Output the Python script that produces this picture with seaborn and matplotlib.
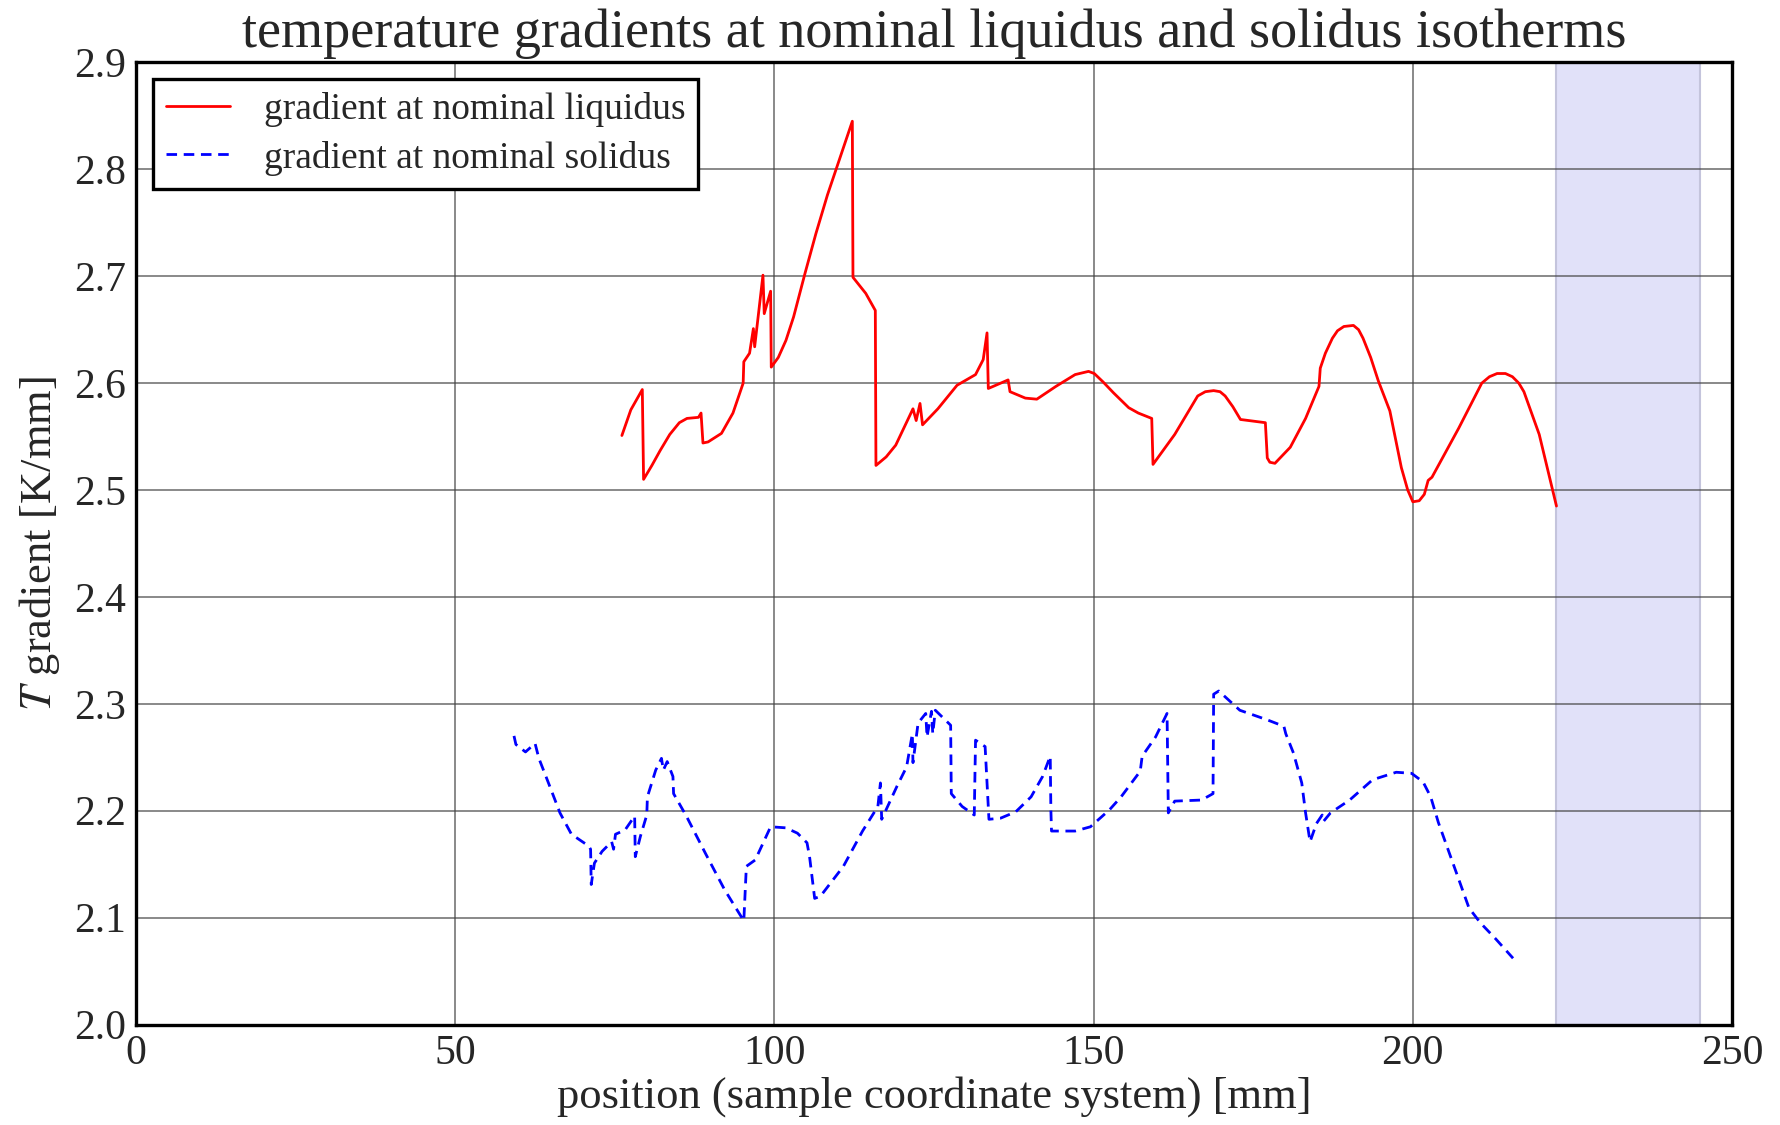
import numpy as np
import pandas as pd
import matplotlib
matplotlib.use("Agg")
import matplotlib.pyplot as plt
import seaborn as sns

# Temperature gradient along the sample at the nominal liquidus isotherm
liq_pos = [76.1, 77.5, 79.3, 79.5, 80.8, 82.1, 83.6, 85.1, 86.3, 88.1, 88.5, 88.8,
           89.6, 91.7, 93.5, 95.1, 95.2, 96.1, 96.7, 96.9, 98.2, 98.4, 99.4, 99.5,
           100.6, 101.8, 103.0, 104.8, 106.5, 108.3, 112.2, 112.3, 114.3, 115.8, 115.9,
           117.5, 119.0, 121.7, 122.2, 122.8, 123.2, 125.6, 128.6, 131.5, 132.7, 133.3,
           133.5, 136.6, 136.9, 139.3, 141.1, 144.1, 147.1, 149.2, 150.1, 151.5, 153.1,
           155.5, 157.0, 159.1, 159.3, 162.7, 166.3, 167.5, 168.8, 169.8, 170.6, 171.8,
           173.0, 176.9, 177.2, 177.6, 178.4, 180.8, 183.2, 185.3, 185.5, 186.3, 187.4,
           188.2, 189.2, 190.7, 191.5, 192.2, 193.4, 194.6, 196.4, 198.2, 199.2, 200.0,
           201.0, 201.8, 202.4, 203.0, 207.2, 210.8, 212.0, 213.2, 214.5, 215.6, 216.6,
           217.4, 219.8, 222.5]
liq_grad = [2.551, 2.575, 2.594, 2.510, 2.523, 2.537, 2.552, 2.563, 2.567, 2.568, 2.572, 2.544,
            2.545, 2.553, 2.572, 2.600, 2.620, 2.628, 2.651, 2.634, 2.701, 2.665, 2.686, 2.615,
            2.624, 2.640, 2.662, 2.703, 2.740, 2.776, 2.845, 2.699, 2.684, 2.668, 2.523,
            2.531, 2.542, 2.576, 2.565, 2.581, 2.561, 2.576, 2.598, 2.608, 2.622, 2.647,
            2.595, 2.603, 2.592, 2.586, 2.585, 2.597, 2.608, 2.611, 2.609, 2.601, 2.591,
            2.577, 2.572, 2.567, 2.524, 2.552, 2.588, 2.592, 2.593, 2.592, 2.588, 2.578,
            2.566, 2.563, 2.530, 2.526, 2.525, 2.540, 2.567, 2.597, 2.614, 2.628, 2.642,
            2.649, 2.653, 2.654, 2.650, 2.642, 2.624, 2.602, 2.574, 2.521, 2.500, 2.489,
            2.490, 2.496, 2.509, 2.512, 2.558, 2.600, 2.606, 2.609, 2.609, 2.606, 2.600,
            2.592, 2.552, 2.485]

# Temperature gradient along the sample at the nominal solidus isotherm
sol_pos = [59.2, 59.5, 61.0, 62.5, 63.1, 64.6, 66.4, 68.2, 70.9, 71.2, 71.3, 71.8,
           73.0, 74.5, 74.8, 75.1, 76.6, 78.1, 78.2, 79.0, 80.0, 80.1, 81.4, 82.3,
           82.6, 83.2, 84.1, 84.2, 86.2, 89.2, 92.2, 95.2, 95.6, 97.0, 99.4, 101.8,
           103.6, 105.1, 105.5, 106.3, 107.2, 110.8, 113.8, 116.2, 116.6, 116.8,
           119.2, 120.7, 121.6, 121.7, 122.5, 123.7, 123.9, 124.6, 124.8, 125.2,
           127.6, 127.7, 129.4, 131.3, 131.5, 133.0, 133.6, 135.4, 137.8, 140.2,
           142.0, 143.2, 143.3, 143.4, 145.6, 147.1, 149.5, 152.5, 154.3, 157.3,
           157.6, 159.7, 161.5, 161.7, 162.7, 166.9, 168.7, 168.8, 169.6, 172.9,
           177.2, 179.8, 180.1, 181.3, 182.6, 183.2, 183.9, 184.9, 185.8, 186.0,
           187.1, 190.1, 193.7, 197.4, 199.8, 201.6, 202.8, 204.0, 205.5, 207.0,
           208.8, 210.6, 213.0, 215.7]
sol_grad = [2.270, 2.262, 2.255, 2.263, 2.249, 2.226, 2.198, 2.178, 2.167, 2.164, 2.131, 2.151,
            2.162, 2.171, 2.164, 2.178, 2.182, 2.195, 2.157, 2.176, 2.196, 2.213, 2.238, 2.249,
            2.238, 2.246, 2.232, 2.216, 2.195, 2.160, 2.126, 2.097, 2.148, 2.154, 2.185, 2.184,
            2.179, 2.170, 2.157, 2.118, 2.120, 2.148, 2.181, 2.204, 2.226, 2.192,
            2.223, 2.241, 2.272, 2.245, 2.282, 2.291, 2.269, 2.293, 2.272, 2.294,
            2.280, 2.216, 2.204, 2.196, 2.266, 2.260, 2.192, 2.193, 2.199, 2.213,
            2.232, 2.251, 2.201, 2.181, 2.181, 2.181, 2.185, 2.201, 2.213, 2.237,
            2.251, 2.269, 2.291, 2.198, 2.209, 2.210, 2.216, 2.309, 2.312, 2.294,
            2.285, 2.279, 2.272, 2.254, 2.226, 2.198, 2.171, 2.188, 2.196, 2.190,
            2.198, 2.210, 2.229, 2.236, 2.235, 2.227, 2.213, 2.189, 2.164, 2.139,
            2.109, 2.095, 2.080, 2.062]

# Shaded interval on the position axis
span_start, span_end = 222.5, 245.0

x_ticks = [0, 50, 100, 150, 200, 250]
y_ticks = [2.0, 2.1, 2.2, 2.3, 2.4, 2.5, 2.6, 2.7, 2.8, 2.9]

labels = ["gradient at nominal liquidus", "gradient at nominal solidus"]

sns.set_style("white")
plt.rcParams["font.family"] = ["Liberation Serif", "DejaVu Serif"]
plt.rcParams["mathtext.fontset"] = "stix"

liq = pd.DataFrame({"pos": liq_pos, "grad": liq_grad})
sol = pd.DataFrame({"pos": sol_pos, "grad": sol_grad})

fig, ax = plt.subplots(figsize=(17.81, 11.25), dpi=100)
fig.subplots_adjust(left=0.0764, right=0.9725, top=0.9445, bottom=0.0893)

ax.axvspan(span_start, span_end, facecolor="#e1e1f9", edgecolor="#c4c4dc",
           linewidth=1.5, zorder=0)

sns.lineplot(data=liq, x="pos", y="grad", ax=ax, sort=False, estimator=None,
             color="#ff0000", linewidth=2.0, label=labels[0], zorder=3)
sns.lineplot(data=sol, x="pos", y="grad", ax=ax, sort=False, estimator=None,
             color="#0000ff", linewidth=2.0, dashes=False, label=labels[1], zorder=3)
ax.lines[-1].set_dashes((3.8, 2.4))

ax.set_xlim(0, 250)
ax.set_ylim(2.0, 2.9)
ax.set_xticks(x_ticks)
ax.set_xticklabels([f"{v:d}" for v in x_ticks])
ax.set_yticks(y_ticks)
ax.set_yticklabels([f"{v:.1f}" for v in y_ticks])
ax.tick_params(axis="both", labelsize=30, length=0, pad=7)

ax.grid(True, color="#444444", linewidth=1.1, alpha=0.8, zorder=1)
ax.set_axisbelow(True)
for s in ax.spines.values():
    s.set_visible(True)
    s.set_color("black")
    s.set_linewidth(2.4)

ax.set_title("temperature gradients at nominal liquidus and solidus isotherms",
             fontsize=39, pad=11)
ax.set_xlabel("position (sample coordinate system) [mm]", fontsize=32, labelpad=2)
ax.set_ylabel(r"$T$ gradient [K/mm]", fontsize=32, labelpad=9)

leg = ax.legend(loc="upper left", fontsize=27, frameon=True, fancybox=False,
                framealpha=1, edgecolor="black", handlelength=1.7,
                borderpad=0.35, labelspacing=0.35, handletextpad=0.9,
                bbox_to_anchor=(0.0, 1.0), borderaxespad=0.45)
leg.get_frame().set_linewidth(2.4)
leg.get_lines()[1].set_dashes((3.8, 2.4))

fig.savefig("out.png", dpi=100)
